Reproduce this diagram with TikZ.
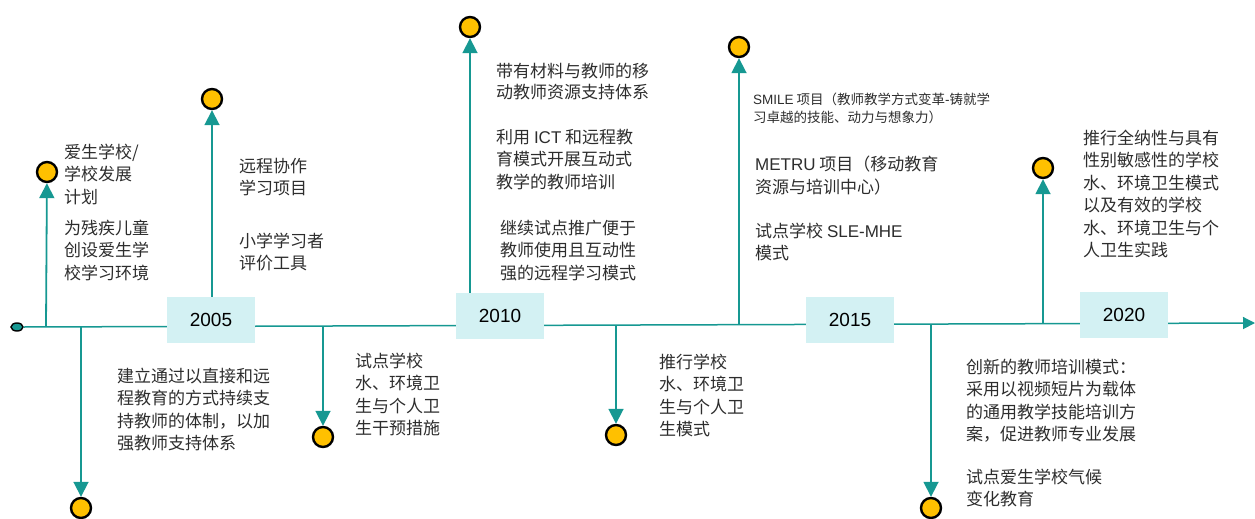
\documentclass[tikz,border=0pt]{standalone}
\usepackage{fontspec}
\setmainfont{Liberation Sans}
\newfontfamily\cjk{Noto Sans CJK SC}
\usetikzlibrary{arrows.meta,shapes.geometric}
\definecolor{tealline}{RGB}{22,152,146}
\definecolor{boxcyan}{RGB}{211,241,243}
\definecolor{dotgold}{RGB}{255,192,0}
\definecolor{notegray}{RGB}{45,45,45}
\newcommand\ltn[1]{{\rmfamily #1}}

\begin{document}
\begin{tikzpicture}[x=1pt,y=-1pt,
    yearbox/.style={fill=boxcyan, minimum width=88pt, minimum height=46pt, inner sep=0pt,
      font=\fontsize{19}{19}\selectfont},
    dot/.style={circle, draw=black, fill=dotgold, line width=2.4pt, minimum size=20pt, inner sep=0pt},
    stem/.style={draw=tealline, line width=1.8pt, -{Triangle[length=15pt,width=15pt]}},
    note/.style={anchor=north west, inner sep=0pt, align=left, text=notegray,
      font=\cjk\fontsize{17}{22.5}\selectfont, execute at begin node=\strut},
    smallnote/.style={note, font=\cjk\fontsize{13.5}{18}\selectfont}]
  \useasboundingbox (0,0) rectangle (1255,519);

  % axis
  \node[ellipse, draw=black, fill=tealline, line width=1.4pt, minimum width=12pt,
    minimum height=8pt, inner sep=0pt] (start) at (17,327) {};
  \coordinate (tip) at (1255,323);
  \draw[tealline, line width=1.5pt, -{Triangle[length=12pt,width=12pt]}] (start.east) -- (tip);

  % points on the axis
  \coordinate (b1) at (46,326.9);
  \coordinate (b2) at (81,326.8);
  \coordinate (b3) at (212,326.4);
  \coordinate (b4) at (323,326.0);
  \coordinate (b5) at (470,325.5);
  \coordinate (b6) at (616,325.1);
  \coordinate (b7) at (739,324.7);
  \coordinate (b8) at (931,324.0);
  \coordinate (b9) at (1043,323.7);

  % events
  \node[dot] (d1) at (47,172) {};
  \node[dot] (d2) at (81,508) {};
  \node[dot] (d3) at (212,99) {};
  \node[dot] (d4) at (323,437) {};
  \node[dot] (d5) at (470,27) {};
  \node[dot] (d6) at (616,435) {};
  \node[dot] (d7) at (739,47) {};
  \node[dot] (d8) at (931,508) {};
  \node[dot] (d9) at (1043,168) {};
  \foreach \i in {1,...,9}
    \draw[stem] (b\i) -- (d\i);

  % years
  \node[yearbox] (y2005) at (211,319.5) {2005};
  \node[yearbox] (y2010) at (500,316) {2010};
  \node[yearbox] (y2015) at (850,319.5) {2015};
  \node[yearbox] (y2020) at (1124,315) {2020};

  % texts
  \node[note] (n1) at (64,143.75) {爱生学校/\\学校发展\\计划};
  \node[note] (n2) at (64,219.75) {为残疾儿童\\创设爱生学\\校学习环境};
  \node[note] (n3) at (117,367.75) {建立通过以直接和远\\程教育的方式持续支\\持教师的体制，以加\\强教师支持体系};
  \node[note] (n4) at (239,157.75) {远程协作\\学习项目};
  \node[note] (n5) at (239,232.75) {小学学习者\\评价工具};
  \node[note] (n6) at (355,352.75) {试点学校\\水、环境卫\\生与个人卫\\生干预措施};
  \node[note, font=\cjk\fontsize{17}{21}\selectfont] (n7) at (496,62.8) {带有材料与教师的移\\动教师资源支持体系};
  \node[note] (n8) at (496,128.75) {利用 \ltn{ICT} 和远程教\\育模式开展互动式\\教学的教师培训};
  \node[note] (n9) at (500,219.75) {继续试点推广便于\\教师使用且互动性\\强的远程学习模式};
  \node[note] (n10) at (659,353.75) {推行学校\\水、环境卫\\生与个人卫\\生模式};
  \node[smallnote] (n11) at (753,92.5) {\ltn{SMILE} 项目（教师教学方式变革\ltn{-}铸就学\\习卓越的技能、动力与想象力）};
  \node[note] (n12) at (755,155.75) {\ltn{METRU} 项目（移动教育\\资源与培训中心）};
  \node[note] (n13) at (755,222.75) {试点学校 \ltn{SLE-MHE}\\模式};
  \node[note] (n14) at (966,358.75) {创新的教师培训模式：\\采用以视频短片为载体\\的通用教学技能培训方\\案，促进教师专业发展};
  \node[note] (n15) at (966,468.75) {试点爱生学校气候\\变化教育};
  \node[note] (n16) at (1083,129.75) {推行全纳性与具有\\性别敏感性的学校\\水、环境卫生模式\\以及有效的学校\\水、环境卫生与个\\人卫生实践};
\end{tikzpicture}
\end{document}
